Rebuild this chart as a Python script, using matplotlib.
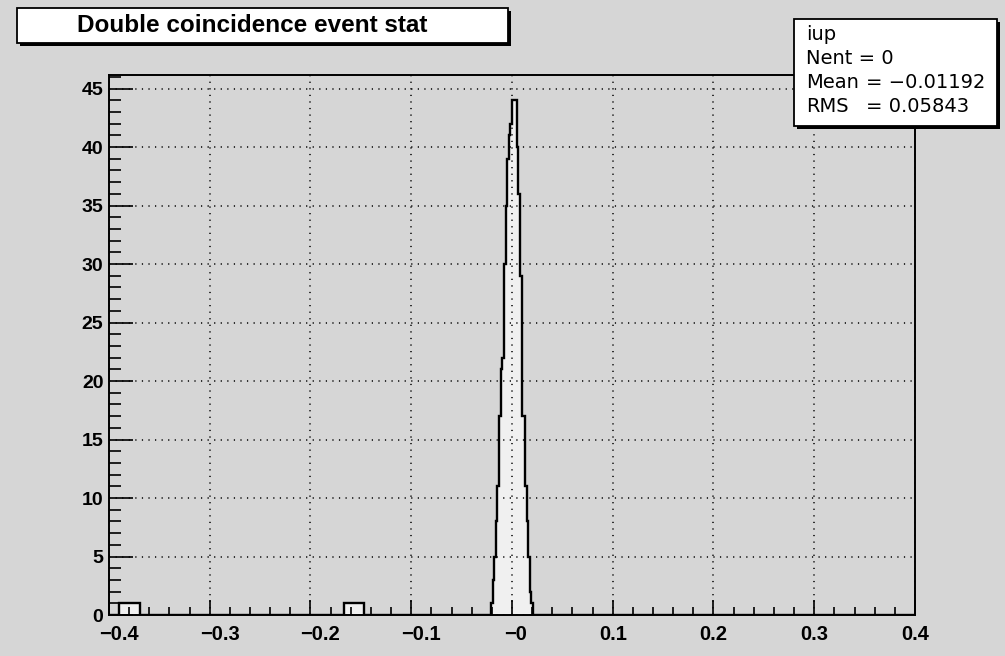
#!/usr/bin/env python
# coding: utf-8

"""
Double coincidence event stat -- ROOT風のヒストグラム (500 bins, -0.4 .. 0.4)
"""

import numpy as np
import matplotlib
matplotlib.use("Agg")
from matplotlib import pyplot as plt
from matplotlib.patches import Rectangle
from matplotlib.transforms import ScaledTranslation

# ヒストグラムの定義
nbins = 500
xlow, xup = -0.4, 0.4

# ピーク部分 (bin 237 .. 262) の中身
peak_first_bin = 237
peak_counts = [1, 3, 5, 8, 11, 17, 21, 22, 30, 35, 39, 41, 42,
               44, 44, 44, 40, 36, 29, 17, 17, 11, 8, 5, 2, 1]

# 1エントリずつ入っているbinの範囲 (始め, 終わり)
tail_ranges = [(6, 19), (146, 158)]

x_ticks = [-0.4, -0.3, -0.2, -0.1, 0.0, 0.1, 0.2, 0.3, 0.4]
x_labels = ["\u22120.4", "\u22120.3", "\u22120.2", "\u22120.1", "\u22120",
            "0.1", "0.2", "0.3", "0.4"]
y_ticks = [0, 5, 10, 15, 20, 25, 30, 35, 40, 45]

title = "Double coincidence event stat"
stat_name = "iup"
stat_lines = [("Nent = 0", ""), ("Mean", "= \u22120.01192"), ("RMS", "= 0.05843")]

W, H = 1005, 656
BG = "#d6d6d6"


def FX(px):
    return px / float(W)


def FY(py):
    return 1.0 - py / float(H)


def MakeCounts():
    counts = np.zeros(nbins)
    counts[peak_first_bin:peak_first_bin + len(peak_counts)] = peak_counts
    for a, b in tail_ranges:
        counts[a:b] = 1
    return counts


def DrawBox(fig, x0, y0, x1, y1):
    # 影付きの白い箱 (ピクセル座標, 上原点)
    sh = Rectangle((FX(x0 + 3), FY(y1 + 3)), FX(x1 - x0), (y1 - y0) / float(H),
                   transform=fig.transFigure, facecolor="k", edgecolor="k", lw=0)
    fig.patches.append(sh)
    bx = Rectangle((FX(x0), FY(y1)), FX(x1 - x0), (y1 - y0) / float(H),
                   transform=fig.transFigure, facecolor="white", edgecolor="k", lw=1.3)
    fig.patches.append(bx)


def main():
    plt.rcParams["font.family"] = ["Liberation Sans", "DejaVu Sans"]
    counts = MakeCounts()
    edges = np.linspace(xlow, xup, nbins + 1)

    fig = plt.figure(figsize=(W / 100.0, H / 100.0), dpi=100, facecolor=BG)
    ax = fig.add_axes([FX(109), FY(615), FX(915 - 109), (615 - 74.5) / float(H)])
    ax.set_facecolor(BG)

    ax.stairs(counts, edges, fill=True, color="#f0f0f0", zorder=1)
    ax.stairs(counts, edges, color="k", lw=1.7, zorder=1.5)

    ax.set_xlim(xlow, xup)
    ax.set_ylim(0, 1.05 * max(peak_counts))
    ax.set_xticks(x_ticks)
    ax.set_xticklabels(x_labels, fontweight="bold", fontsize=14.5)
    ax.set_xticks(np.arange(-0.4, 0.401, 0.02), minor=True)
    ax.set_yticks(y_ticks)
    ax.set_yticklabels([str(v) for v in y_ticks], fontweight="bold", fontsize=14)
    ax.set_yticks(np.arange(0, 47, 1), minor=True)

    ax.tick_params(axis="x", which="major", direction="in", length=11, width=1.2, pad=7)
    ax.tick_params(axis="x", which="minor", direction="in", length=5.5, width=1.2)
    ax.tick_params(axis="y", which="major", direction="in", length=17, width=1.2, pad=4)
    ax.tick_params(axis="y", which="minor", direction="in", length=8.5, width=1.2)
    for s in ax.spines.values():
        s.set_linewidth(1.4)

    # ROOTの負のラベルは少し右にずれている
    for lab in ax.get_xticklabels():
        txt = lab.get_text()
        if txt.startswith("\u2212"):
            dx = 4 if txt == "\u22120" else 10
            lab.set_transform(lab.get_transform() + ScaledTranslation(dx / 100.0, 0, fig.dpi_scale_trans))

    ax.set_axisbelow(False)
    ax.grid(True, which="major", color="k", linestyle=(0, (0.8, 3.5)), lw=1.1)

    # タイトル
    DrawBox(fig, 17, 8, 508, 43)
    fig.text(FX(252), FY(26), title, ha="center", va="center",
             fontsize=17.5, fontweight="bold")

    # 統計ボックス
    DrawBox(fig, 794, 19, 997, 126)
    sfont = ["DejaVu Sans"]
    fig.text(FX(806), FY(35), stat_name, ha="left", va="center", fontsize=14, family=sfont)
    for i, (lab, val) in enumerate(stat_lines):
        yy = FY(59 + 24 * i)
        fig.text(FX(806), yy, lab, ha="left", va="center", fontsize=14, family=sfont)
        if val:
            fig.text(FX(866), yy, val, ha="left", va="center", fontsize=14, family=sfont)

    fig.savefig("out.png", dpi=100, facecolor=BG)


if __name__ == "__main__":
    main()
